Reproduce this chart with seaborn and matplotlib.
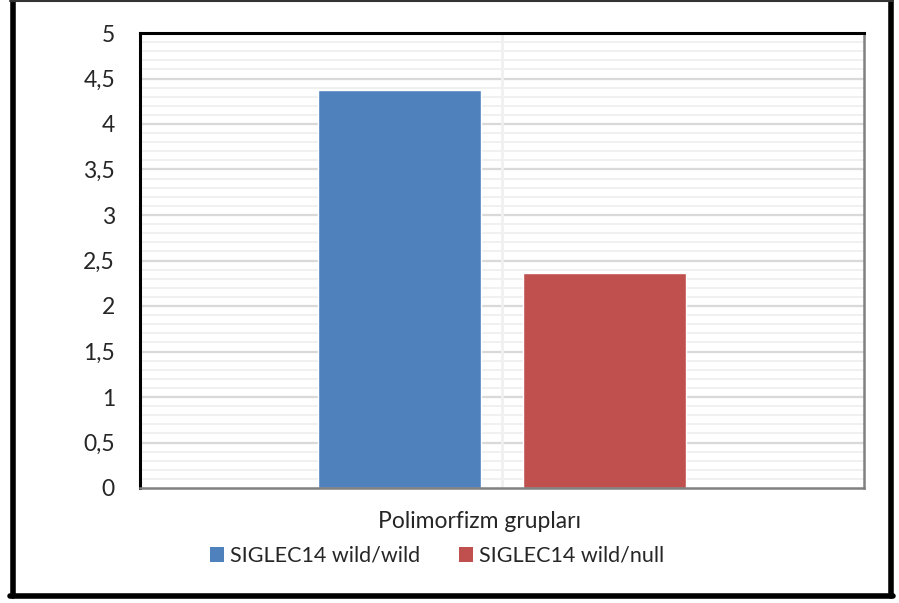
import matplotlib
matplotlib.use("Agg")
import matplotlib.pyplot as plt
import seaborn as sns
import pandas as pd
import numpy as np
from matplotlib.lines import Line2D
from matplotlib.patches import Patch

categories = ["Polimorfizm grupları"]
groups = ["SIGLEC14 wild/wild", "SIGLEC14 wild/null"]
values = [4.37, 2.36]
colors = ["#4F81BD", "#C0504D"]
yticks = [0, 0.5, 1, 1.5, 2, 2.5, 3, 3.5, 4, 4.5, 5]
ytick_labels = ["0", "0,5", "1", "1,5", "2", "2,5", "3", "3,5", "4", "4,5", "5"]

df = pd.DataFrame({"cat": categories * len(groups), "group": groups, "value": values})

sns.set_style("white")
plt.rcParams["font.family"] = ["Lato", "DejaVu Sans"]

fig = plt.figure(figsize=(8.99, 6.03), dpi=100)
ax = fig.add_axes([140 / 899, 1 - 488 / 603, (864 - 140) / 899, (488 - 33) / 603])

sns.barplot(data=df, x="cat", y="value", hue="group", palette=colors,
            width=0.568, gap=0.208, ax=ax, legend=False, saturation=1)

ax.set_xlim(-0.5, 0.5)
ax.set_ylim(0, 5)

# gridlines
for v in np.arange(0.1, 5.0, 0.1):
    major = abs(v * 2 - round(v * 2)) < 1e-6
    ax.axhline(v, color="#D9D9D9" if major else "#F0F0F0", lw=1.6 if major else 1.4, zorder=0)
ax.axvline(0, color="#F0F0F0", lw=2.0, zorder=0)

ax.set_yticks(yticks)
ax.set_yticklabels(ytick_labels, fontsize=16.5)
ax.tick_params(axis="y", length=0, pad=18)
ax.set_xticks([])
ax.set_ylabel("")
ax.set_xlabel("")
fig.text(480 / 899, 1 - 522 / 603, categories[0], fontsize=16.5, ha="center", va="center")

for side in ["top", "left"]:
    ax.spines[side].set_color("#000000")
    ax.spines[side].set_linewidth(2.2)
for side in ["right", "bottom"]:
    ax.spines[side].set_color("#808080")
    ax.spines[side].set_linewidth(1.8)
    ax.spines[side].set_visible(True)

handles = [Patch(facecolor=c, edgecolor="none") for c in colors]
fig.legend(handles, groups, loc="center", bbox_to_anchor=(437 / 899, 1 - 556 / 603),
           ncol=2, frameon=False, fontsize=15.5, handlelength=0.65, handleheight=0.65,
           handletextpad=0.3, columnspacing=1.8, borderpad=0, borderaxespad=0)

# outer frame
fig.add_artist(Line2D([12.5 / 899, 12.5 / 899], [1 - 1 / 603, 1 - 596 / 603],
                      transform=fig.transFigure, color="black", lw=4))
fig.add_artist(Line2D([890.5 / 899, 890.5 / 899], [1 - 1 / 603, 1 - 596 / 603],
                      transform=fig.transFigure, color="black", lw=4))
fig.add_artist(Line2D([10 / 899, 893 / 899], [1 - 595.5 / 603, 1 - 595.5 / 603],
                      transform=fig.transFigure, color="black", lw=4))
fig.add_artist(Line2D([10 / 899, 893 / 899], [1 - 1 / 603, 1 - 1 / 603],
                      transform=fig.transFigure, color="#333333", lw=1.5))

fig.savefig("out.png", dpi=100)
